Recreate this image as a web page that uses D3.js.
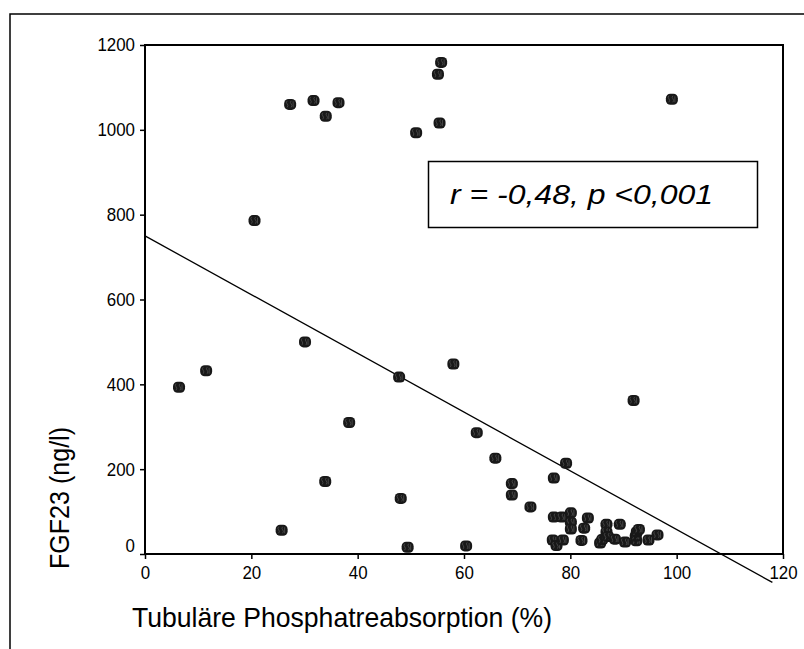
<!DOCTYPE html>
<html>
<head>
<meta charset="utf-8">
<script src="https://cdn.jsdelivr.net/npm/d3@7"></script>
<style>
  html, body { margin: 0; padding: 0; background: #fff; }
  svg { display: block; }
  text { font-family: "Liberation Sans", Arial, Helvetica, sans-serif; fill: #000; }
</style>
</head>
<body>
<svg id="chart" width="804" height="649"></svg>
<script>
// ---- data ----
const tpr = [6.4, 11.5, 20.6, 27.3, 31.7, 34.0, 36.4, 30.1, 38.4, 33.9, 25.7, 47.8, 48.1, 49.4,
  51.0, 55.1, 55.7, 55.4, 58.0, 60.4, 62.4, 65.9, 69.0, 69.0, 72.5, 76.9, 79.2, 91.9, 99.1,
  76.9, 78.4, 80.1, 80.1, 80.1, 83.3, 82.6, 86.8, 86.8, 89.3, 76.7, 77.4, 78.6, 82.1, 85.6,
  86.0, 87.1, 88.4, 90.3, 92.4, 92.3, 92.5, 92.9, 94.7, 96.4];
const fgf23 = [393, 432, 786, 1060, 1069, 1032, 1064, 500, 310, 171, 56, 417, 131, 16,
  993, 1131, 1159, 1016, 448, 19, 286, 226, 166, 139, 111, 179, 214, 362, 1072,
  87, 87, 97, 75, 59, 85, 61, 70, 52, 70, 33, 20, 33, 32, 26,
  34, 41, 35, 28, 31, 42, 52, 58, 33, 45];
const fitX = [0, 118];
const fitY = [750, -67];
const xTicks = [0, 20, 40, 60, 80, 100, 120];
const yTicks = [0, 200, 400, 600, 800, 1000, 1200];
const xTitle = "Tubuläre Phosphatreabsorption (%)";
const yTitle = "FGF23 (ng/l)";
const statText = "r = -0,48, p <0,001";

// ---- drawing ----
const svg = d3.select("#chart");
const x = d3.scaleLinear().domain([0, 120]).range([145, 783]);
const y = d3.scaleLinear().domain([0, 1200]).range([554, 45]);
const fmt = d3.format("d");

// outer frame (extends past the picture edge on right and bottom)
svg.append("rect")
  .attr("x", 10).attr("y", 14).attr("width", 820).attr("height", 700)
  .attr("fill", "none").attr("stroke", "#000").attr("stroke-width", 1.5);

// plot frame
svg.append("rect")
  .attr("x", x(0)).attr("y", y(1200))
  .attr("width", x(120) - x(0)).attr("height", y(0) - y(1200))
  .attr("fill", "none").attr("stroke", "#000").attr("stroke-width", 2);

function styleTicks(g) {
  g.select(".domain").remove();
  g.selectAll(".tick line").attr("stroke", "#000").attr("stroke-width", 1.5);
  g.selectAll(".tick text").attr("font-size", 18.5)
    .style("font-family", '"Liberation Sans", Arial, sans-serif').attr("fill", "#000")
    .attr("textLength", d => fmt(d).length * 9.4)
    .attr("lengthAdjust", "spacingAndGlyphs");
}

// y axis
const gy = svg.append("g").attr("transform", `translate(${x(0)},0)`)
  .call(d3.axisLeft(y).tickValues(yTicks).tickSize(5).tickPadding(5).tickFormat(fmt));
styleTicks(gy);
gy.selectAll(".tick").filter(d => d === 0).select("text").attr("y", -8);

// x axis
const gx = svg.append("g").attr("transform", `translate(0,${y(0)})`)
  .call(d3.axisBottom(x).tickValues(xTicks).tickSize(5).tickPadding(7).tickFormat(fmt));
styleTicks(gx);

// regression line
svg.append("line")
  .attr("x1", x(fitX[0])).attr("y1", y(fitY[0]))
  .attr("x2", x(fitX[1])).attr("y2", y(fitY[1]))
  .attr("stroke", "#000").attr("stroke-width", 1.3);

// markers
const pts = tpr.map((v, i) => [v, fgf23[i]]);
const mk = svg.append("g").selectAll("g").data(pts).join("g")
  .attr("transform", d => `translate(${x(d[0])},${y(d[1])})`);
mk.append("rect")
  .attr("x", -6).attr("y", -5.5).attr("width", 12).attr("height", 11).attr("rx", 4.5)
  .attr("fill", "#181818");
mk.append("path")
  .attr("d", "M-3,-3.5 q-1.5,1.5 0,3 q1.5,1.5 0,3.5 M1,-3.5 q-1.5,1.5 0,3 q1.5,1.5 0,3.5 M3,-3 l0,6")
  .attr("fill", "none").attr("stroke", "#505050").attr("stroke-width", 0.8);

// stat box
svg.append("rect")
  .attr("x", 428.5).attr("y", 161.5).attr("width", 329).attr("height", 66)
  .attr("fill", "#fff").attr("stroke", "#000").attr("stroke-width", 1.5);
svg.append("text")
  .attr("x", 450).attr("y", 204)
  .attr("font-size", 28.5).attr("font-style", "italic")
  .attr("textLength", 263).attr("lengthAdjust", "spacingAndGlyphs")
  .text(statText);

// axis titles
svg.append("text")
  .attr("x", 132).attr("y", 627)
  .attr("font-size", 28.5)
  .attr("textLength", 420).attr("lengthAdjust", "spacingAndGlyphs")
  .text(xTitle);
svg.append("text")
  .attr("transform", "translate(69,498) rotate(-90)")
  .attr("text-anchor", "middle")
  .attr("font-size", 28)
  .attr("textLength", 142).attr("lengthAdjust", "spacingAndGlyphs")
  .text(yTitle);
</script>
</body>
</html>
